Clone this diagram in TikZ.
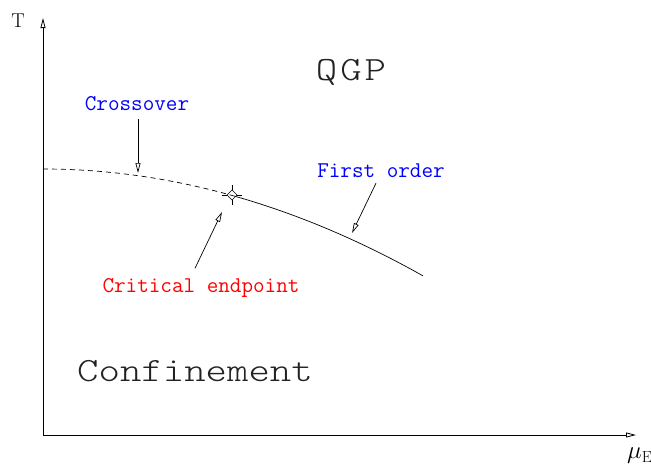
\documentclass[tikz,border=0pt]{standalone}
\usepackage{fontspec}
\usepackage{tikz}
\usetikzlibrary{arrows.meta}
\newfontfamily\bigmono[FakeStretch=1.2]{Latin Modern Mono Light}
\definecolor{labelblue}{HTML}{0000FF}
\definecolor{labelred}{HTML}{FF0000}
\definecolor{phasegray}{HTML}{222222}

\tikzset{
  openhead/.style={-{Triangle[open,length=10pt,width=5pt]}},
  axisline/.style={line width=0.8pt, openhead},
  pointer/.style={line width=0.7pt, openhead},
  tag/.style={font=\fontsize{22.5}{25}\ttfamily, inner sep=0pt},
  phase/.style={font=\fontsize{34}{38}\bigmono, text=phasegray, inner sep=0pt}
}

\begin{document}
\begin{tikzpicture}[x=1pt, y=-1pt]
    \useasboundingbox (0,0) rectangle (651,467);
    % axes
    \coordinate (origin) at (43,435);
    \coordinate (ytop) at (43,18);
    \coordinate (xend) at (636,435);
    \draw[axisline] (origin) -- (ytop);
    \draw[axisline] (origin) -- (xend);
    \node[font=\fontsize{20}{24}\selectfont, inner sep=0pt] (tlabel) at (18,21) {T};
    \node[font=\fontsize{23}{26}\selectfont, inner sep=0pt, anchor=west] (mulabel) at (627,456) {$\mu_{\mathrm{E}}$};

    % transition line
    \draw[line width=0.7pt, dash pattern=on 5pt off 4pt]
      plot[domain=0:1.89, samples=40] ({43+100*\x}, {169+7.4*\x*\x});
    \draw[line width=0.7pt]
      plot[domain=1.89:3.80, samples=40] ({43+100*\x}, {169+7.4*\x*\x});

    % critical endpoint marker
    \coordinate (cep) at (232,195);
    \draw[line width=0.6pt] (cep) +(-5,0) -- +(0,-5) -- +(5,0) -- +(0,5) -- cycle;
    \draw[line width=0.6pt] (cep) +(-10,0) -- +(-5,0) +(5,0) -- +(10,0)
      +(0,-10) -- +(0,-5) +(0,5) -- +(0,10);

    % labels
    \node[phase] (qgp) at (351,72) {Q\kern3pt G\kern3pt P};
    \node[phase] (confine) at (195,371) {Confinement};
    \node[tag, text=labelblue] (crossover) at (137,104) {Crossover};
    \node[tag, text=labelblue] (firstorder) at (381,171) {First order};
    \node[tag, text=labelred] (critical) at (201,288) {Critical endpoint};

    % pointers
    \coordinate (cotip) at (138,173);
    \coordinate (fotip) at (352,233);
    \coordinate (cetip) at (222,212);
    \draw[pointer] ([yshift=-8pt]crossover.south -| cotip) -- (cotip);
    \draw[pointer] ([yshift=-5pt]firstorder.south -| 376,0) -- (fotip);
    \draw[pointer] ([yshift=10pt]critical.north -| 195,0) -- (cetip);
\end{tikzpicture}
\end{document}
